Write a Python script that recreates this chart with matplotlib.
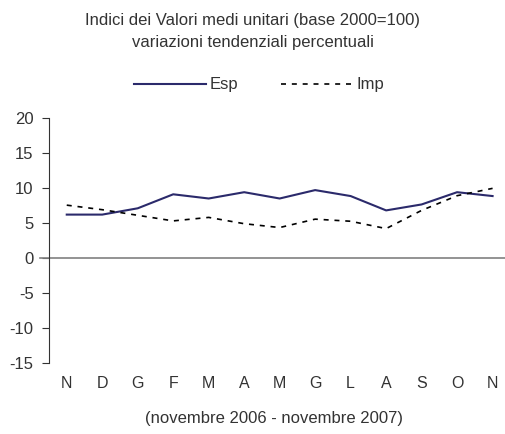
import matplotlib.pyplot as plt

plt.rcParams['font.family'] = ['Liberation Sans', 'DejaVu Sans']
plt.rcParams['axes.unicode_minus'] = False

# data
months = ['N', 'D', 'G', 'F', 'M', 'A', 'M', 'G', 'L', 'A', 'S', 'O', 'N']
esp = [6.2, 6.2, 7.1, 9.1, 8.5, 9.4, 8.5, 9.7, 8.85, 6.8, 7.65, 9.4, 8.85]
imp = [7.55, 6.9, 6.1, 5.3, 5.8, 4.9, 4.35, 5.55, 5.25, 4.2, 6.8, 8.9, 9.95]
yticks = [-15, -10, -5, 0, 5, 10, 15, 20]

txt = '#333333'
fs = 12

fig = plt.figure(figsize=(5.05, 4.34), dpi=100)
ax = fig.add_axes([49 / 505, 1 - 363 / 434, 1 - 49 / 505, 245 / 434])

x = range(len(months))
ax.plot(x, esp, color='#2b2a6b', lw=1.5, label='Esp')
ax.plot(x, imp, color='black', lw=1.2, ls=(0, (3, 3.5)), label='Imp')
ax.axhline(0, color='#808080', lw=1.2, xmin=-0.02, clip_on=False)

ax.set_xlim(-0.5, 12.35)
ax.set_ylim(-15, 20)
ax.set_yticks(yticks)
ax.set_yticklabels([str(v) for v in yticks], color=txt, fontsize=fs)
ax.tick_params(axis='y', length=5, width=0.8, color='#333333', pad=6)
ax.set_xticks([])
for side in ['top', 'right', 'bottom']:
    ax.spines[side].set_visible(False)
ax.spines['left'].set_color('#333333')
ax.spines['left'].set_linewidth(0.8)

for i, m in enumerate(months):
    ax.text(i, -18.0, m, ha='center', va='center', fontsize=11.5, color=txt, clip_on=False)

fig.text(0.5, 1 - 20 / 434, 'Indici dei Valori medi unitari (base 2000=100)',
         ha='center', va='center', fontsize=fs, color=txt)
fig.text(0.5, 1 - 43 / 434, 'variazioni tendenziali percentuali',
         ha='center', va='center', fontsize=fs, color=txt)
fig.text(274 / 505, 1 - 418 / 434, '(novembre 2006 - novembre 2007)',
         ha='center', va='center', fontsize=fs, color=txt)

leg = fig.legend(loc='center', bbox_to_anchor=(259 / 505, 1 - 85 / 434), ncol=2,
                 frameon=False, handlelength=4.3, handletextpad=0.2,
                 columnspacing=2.6, fontsize=fs)
for t in leg.get_texts():
    t.set_color(txt)

fig.savefig('out.png', dpi=100)
